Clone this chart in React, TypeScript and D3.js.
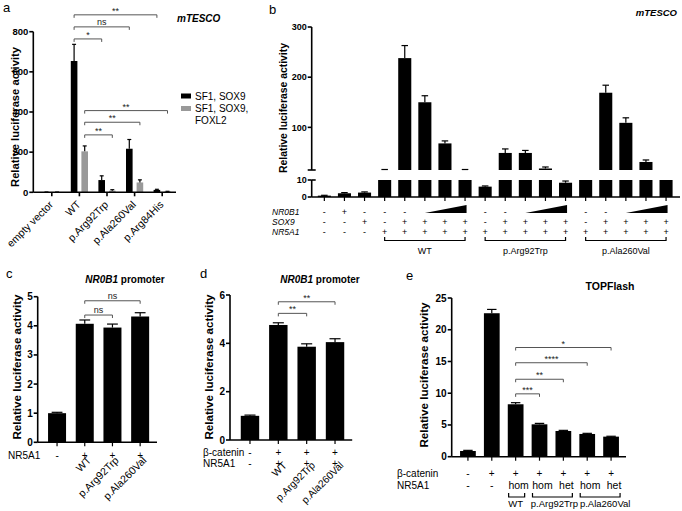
import * as d3 from "d3";

const FONT = "'Liberation Sans', Arial, Helvetica, sans-serif";

// ---- panel a: mTESCO, two series per variant
const aCategories = ["empty vector", "WT", "p.Arg92Trp", "p.Ala260Val", "p.Arg84His"];
const aSox9 = [1, 654, 61, 217, 12];
const aSox9Err = [0.5, 83, 21, 46, 3];
const aFoxl2 = [1, 204, 8, 49, 4];
const aFoxl2Err = [0.3, 27, 5, 13, 1];
const aTicks = [0, 200, 400, 600, 800];
const aSeries = ["SF1, SOX9", "SF1, SOX9, FOXL2"];
// [fromIdx, toIdx, series, level, label]
const aBrackets: [number, number, number, number, string][] = [
  [1, 4, 0, 884, "**"],
  [1, 3, 0, 824, "ns"],
  [1, 2, 0, 764, "*"],
  [1, 4, 1, 407, "**"],
  [1, 3, 1, 349, "**"],
  [1, 2, 1, 286, "**"],
];

// ---- panel b: mTESCO with broken axis
const bValues = [0.8, 2.2, 2.6, 13, 238, 150, 68, 13, 6.1, 49, 49, 18, 8.4, 12, 169, 109, 31, 12];
const bErr = [0.2, 0.4, 0.4, 3, 25, 13, 5, 3, 0.4, 8, 5, 3, 1, 0.5, 15, 10, 4, 0.5];
const bNR0B1 = ["-", "+", "-", "-", "-", "r", "r", "r", "-", "-", "r", "r", "r", "-", "-", "r", "r", "r"];
const bSOX9 = ["-", "-", "+", "-", "+", "+", "+", "+", "-", "+", "+", "+", "+", "-", "+", "+", "+", "+"];
const bNR5A1 = ["-", "-", "-", "+", "+", "+", "+", "+", "+", "+", "+", "+", "+", "+", "+", "+", "+", "+"];
const bGroups: [number, number, string][] = [[3, 7, "WT"], [8, 12, "p.Arg92Trp"], [13, 17, "p.Ala260Val"]];
const bRamps: [number, number][] = [[5, 7], [10, 12], [15, 17]];
const bLowTicks = [0, 10];
const bHighTicks = [100, 200, 300];

// ---- panel c: NR0B1 promoter
const cLabels = ["", "WT", "p.Arg92Trp", "p.Ala260Val"];
const cValues = [1.0, 4.07, 3.94, 4.32];
const cErr = [0.03, 0.13, 0.12, 0.13];
const cNR5A1 = ["-", "+", "+", "+"];
const cTicks = [0, 1, 2, 3, 4, 5];
const cBrackets: [number, number, number, string][] = [[1, 2, 4.37, "ns"], [1, 3, 4.86, "ns"]];

// ---- panel d: NR0B1 promoter with beta-catenin
const dLabels = ["", "WT", "p.Arg92Trp", "p.Ala260Val"];
const dValues = [1.0, 4.76, 3.86, 4.05];
const dErr = [0.03, 0.09, 0.12, 0.14];
const dCatenin = ["-", "+", "+", "+"];
const dNR5A1 = ["-", "+", "+", "+"];
const dTicks = [0, 2, 4, 6];
const dBrackets: [number, number, number, string][] = [[1, 2, 5.24, "**"], [1, 3, 5.72, "**"]];

// ---- panel e: TOPFlash
const eValues = [0.9, 22.6, 8.26, 5.1, 4.05, 3.58, 3.16];
const eErr = [0.1, 0.6, 0.25, 0.15, 0.1, 0.1, 0.06];
const eCatenin = ["-", "+", "+", "+", "+", "+", "+"];
const eNR5A1 = ["-", "-", "hom", "hom", "het", "hom", "het"];
const eGroups: [number, number, string][] = [[2, 2, "WT"], [3, 4, "p.Arg92Trp"], [5, 6, "p.Ala260Val"]];
const eTicks = [0, 5, 10, 15, 20, 25];
const eBrackets: [number, number, number, string][] = [
  [2, 3, 9.9, "***"],
  [2, 4, 12.2, "**"],
  [2, 5, 14.8, "****"],
  [2, 6, 17.2, "*"],
];

const AX = 1.6;

function ErrorBar({ x, y0, y1, w }: { x: number; y0: number; y1: number; w: number }) {
  return (
    <g stroke="#000" strokeWidth={1.2}>
      <line x1={x} x2={x} y1={y0} y2={y1} />
      <line x1={x - w / 2} x2={x + w / 2} y1={y1} y2={y1} />
    </g>
  );
}

function Bracket({ x1, x2, y, label, color = "#555", fs = 9 }: { x1: number; x2: number; y: number; label: string; color?: string; fs?: number }) {
  return (
    <g>
      <path d={`M${x1},${y + 3}V${y}H${x2}V${y + 3}`} fill="none" stroke={color} strokeWidth={1} />
      <text x={(x1 + x2) / 2} y={label === "ns" ? y - 2 : y - 1} textAnchor="middle" fontSize={fs} fill="#222">
        {label}
      </text>
    </g>
  );
}

function YAxis({ x, y, ticks, fs = 10 }: { x: number; y: d3.ScaleLinear<number, number>; ticks: number[]; fs?: number }) {
  const [r0, r1] = y.range();
  return (
    <g>
      <line x1={x} x2={x} y1={r0} y2={r1} stroke="#000" strokeWidth={AX} />
      {ticks.map((t) => (
        <g key={t}>
          <line x1={x - 4} x2={x} y1={y(t)} y2={y(t)} stroke="#000" strokeWidth={AX} />
          <text x={x - 5} y={y(t)} dy="0.35em" textAnchor="end" fontSize={fs} fontWeight="bold">
            {t}
          </text>
        </g>
      ))}
    </g>
  );
}

function YLabel({ x, y, fs }: { x: number; y: number; fs: number }) {
  return (
    <text transform={`translate(${x},${y}) rotate(-90)`} textAnchor="middle" fontSize={fs} fontWeight="bold">
      Relative luciferase activity
    </text>
  );
}

function PanelA() {
  const x = d3.scaleBand().domain(aCategories).range([38, 176]);
  const sub = d3.scaleBand().domain(aSeries).range([0, x.bandwidth()]).paddingInner(0.377).paddingOuter(0.49);
  const y = d3.scaleLinear().domain([0, 800]).range([192.3, 31.7]);
  const colors = ["#000", "#999"];
  const vals = [aSox9, aFoxl2];
  const errs = [aSox9Err, aFoxl2Err];
  const cx = (i: number, s: number) => (x(aCategories[i]) ?? 0) + (sub(aSeries[s]) ?? 0) + sub.bandwidth() / 2;
  return (
    <g>
      <text x={3} y={12} fontSize={13}>a</text>
      <text x={177} y={22} fontSize={10} fontWeight="bold" fontStyle="italic">mTESCO</text>
      <YLabel x={19} y={117} fs={11.2} />
      {aSeries.map((s, si) =>
        aCategories.map((c, i) => {
          const xc = cx(i, si);
          const w = sub.bandwidth();
          return (
            <g key={s + c}>
              <rect x={xc - w / 2} y={y(vals[si][i])} width={w} height={y(0) - y(vals[si][i])} fill={colors[si]} />
              <ErrorBar x={xc} y0={y(vals[si][i])} y1={y(vals[si][i] + errs[si][i])} w={w * 0.6} />
            </g>
          );
        })
      )}
      <YAxis x={33.3} y={y} ticks={aTicks} fs={9.5} />
      <line x1={33.3} x2={176} y1={y(0)} y2={y(0)} stroke="#000" strokeWidth={AX} />
      {aCategories.map((c) => {
        const xc = (x(c) ?? 0) + x.bandwidth() / 2;
        return (
          <g key={c}>
            <line x1={xc} x2={xc} y1={y(0)} y2={y(0) + 4} stroke="#000" strokeWidth={AX} />
            <text transform={`translate(${xc + 2},${y(0) + 13}) rotate(-45)`} textAnchor="end" fontSize={10.5}>
              {c}
            </text>
          </g>
        );
      })}
      {aBrackets.map(([a, b, s, lv, lab], i) => (
        <Bracket key={i} x1={cx(a, s)} x2={cx(b, s)} y={y(lv)} label={lab} />
      ))}
      <rect x={181} y={93.5} width={10} height={5} fill="#000" />
      <text x={195} y={100.3} fontSize={10}>SF1, SOX9</text>
      <rect x={181} y={106} width={10} height={5} fill="#999" />
      <text x={195} y={112} fontSize={10}>SF1, SOX9,</text>
      <text x={195} y={124} fontSize={10}>FOXL2</text>
    </g>
  );
}

function PanelB() {
  const cols = bValues.map((_, i) => String(i));
  const x = d3.scaleBand().domain(cols).range([314.3, 676.1]).paddingInner(0.35).paddingOuter(0.175);
  const yLow = d3.scaleLinear().domain([0, 10]).range([197, 180]);
  const yHigh = d3.scaleLinear().domain([15, 300]).range([170, 27]);
  const axX = 311.7;
  const cx = (i: number) => (x(String(i)) ?? 0) + x.bandwidth() / 2;
  const w = x.bandwidth();
  const rows: [string, string[], number][] = [["NR0B1", bNR0B1, 214.5], ["SOX9", bSOX9, 224.5], ["NR5A1", bNR5A1, 234.5]];
  return (
    <g>
      <text x={269} y={13.5} fontSize={13}>b</text>
      <text x={677} y={16} fontSize={9.5} fontWeight="bold" fontStyle="italic" textAnchor="end">mTESCO</text>
      <YLabel x={287} y={108} fs={10.4} />
      {bValues.map((v, i) => {
        const xc = cx(i);
        const top = v + bErr[i];
        return (
          <g key={i}>
            <rect x={xc - w / 2} y={yLow(Math.min(v, 10))} width={w} height={yLow(0) - yLow(Math.min(v, 10))} />
            {v > 15 && <rect x={xc - w / 2} y={yHigh(v)} width={w} height={yHigh(15) - yHigh(v)} />}
            {top <= 10 && <ErrorBar x={xc} y0={yLow(v)} y1={yLow(top)} w={w * 0.5} />}
            {top > 15 && <ErrorBar x={xc} y0={yHigh(Math.max(v, 15))} y1={yHigh(top)} w={w * 0.5} />}
          </g>
        );
      })}
      {/* broken y axis */}
      <YAxis x={axX} y={yLow} ticks={bLowTicks} fs={9} />
      <line x1={axX} x2={axX + 4} y1={yLow(10)} y2={yLow(10)} stroke="#000" strokeWidth={AX} />
      <YAxis x={axX} y={yHigh} ticks={bHighTicks} fs={9} />
      <line x1={axX - 4} x2={axX + 4} y1={yHigh(15)} y2={yHigh(15)} stroke="#000" strokeWidth={AX} />
      <line x1={axX} x2={680} y1={yLow(0)} y2={yLow(0)} stroke="#000" strokeWidth={AX} />
      {cols.map((c, i) => (
        <line key={c} x1={cx(i)} x2={cx(i)} y1={yLow(0)} y2={yLow(0) + 4} stroke="#000" strokeWidth={1.2} />
      ))}
      {rows.map(([name, vals, yy]) => (
        <g key={name}>
          <text x={272} y={yy} fontSize={8.5} fontStyle="italic" fill="#000">{name}</text>
          {vals.map((s, i) =>
            s === "r" ? null : (
              <text key={i} x={cx(i)} y={yy} fontSize={9} textAnchor="middle" fill="#000">{s}</text>
            )
          )}
        </g>
      ))}
      {bRamps.map(([a, b], i) => (
        <polygon key={i} points={`${cx(a)},213 ${cx(b) + 1.5},213 ${cx(b) + 1.5},205`} fill="#000" />
      ))}
      {bGroups.map(([a, b, lab]) => (
        <g key={lab}>
          <path d={`M${cx(a)},237V240.5H${cx(b)}V237`} fill="none" stroke="#000" strokeWidth={1.2} />
          <text x={(cx(a) + cx(b)) / 2} y={254} fontSize={9} textAnchor="middle">{lab}</text>
        </g>
      ))}
    </g>
  );
}

function SimplePanel({
  letter, lx, ly, title, tx, ty, ylx, yly, axX, xRange, yRange, yDomain, ticks,
  values, errs, barPad, brackets,
}: {
  letter: string; lx: number; ly: number; title: "nr0b1" | "top"; tx: number; ty: number;
  ylx: number; yly: number; axX: number; xRange: [number, number]; yRange: [number, number];
  yDomain: [number, number]; ticks: number[]; values: number[]; errs: number[]; barPad: number;
  brackets: [number, number, number, string][];
}) {
  const cols = values.map((_, i) => String(i));
  const x = d3.scaleBand().domain(cols).range(xRange).paddingInner(barPad).paddingOuter(barPad / 2);
  const y = d3.scaleLinear().domain(yDomain).range(yRange);
  const w = x.bandwidth();
  const cx = (i: number) => (x(String(i)) ?? 0) + w / 2;
  return (
    <g>
      <text x={lx} y={ly} fontSize={13}>{letter}</text>
      {title === "nr0b1" ? (
        <text x={tx} y={ty} fontSize={10} fontWeight="bold" textAnchor="middle">
          <tspan fontStyle="italic">NR0B1</tspan> promoter
        </text>
      ) : (
        <text x={tx} y={ty} fontSize={10.5} fontWeight="bold" textAnchor="middle">TOPFlash</text>
      )}
      <YLabel x={ylx} y={yly} fs={11.6} />
      {values.map((v, i) => (
        <g key={i}>
          <rect x={cx(i) - w / 2} y={y(v)} width={w} height={y(0) - y(v)} />
          <ErrorBar x={cx(i)} y0={y(v)} y1={y(v + errs[i])} w={w * 0.6} />
        </g>
      ))}
      <YAxis x={axX} y={y} ticks={ticks} fs={10} />
      <line x1={axX} x2={xRange[1] + 3} y1={y(0)} y2={y(0)} stroke="#000" strokeWidth={AX} />
      {cols.map((c, i) => (
        <line key={c} x1={cx(i)} x2={cx(i)} y1={y(0)} y2={y(0) + 4} stroke="#000" strokeWidth={1.2} />
      ))}
      {brackets.map(([a, b, lv, lab], i) => (
        <Bracket key={i} x1={cx(a)} x2={cx(b)} y={y(lv)} label={lab} fs={9} />
      ))}
    </g>
  );
}

function PanelC() {
  const x = d3.scaleBand().domain(cLabels.map((_, i) => String(i))).range([43.2, 154]).paddingInner(0.35).paddingOuter(0.175);
  const cx = (i: number) => (x(String(i)) ?? 0) + x.bandwidth() / 2;
  return (
    <g>
      <SimplePanel
        letter="c" lx={6} ly={278} title="nr0b1" tx={125} ty={283} ylx={21} yly={367}
        axX={37.7} xRange={[43.2, 154]} yRange={[442.3, 296.7]} yDomain={[0, 5]} ticks={cTicks}
        values={cValues} errs={cErr} barPad={0.35} brackets={cBrackets}
      />
      <text x={8} y={459} fontSize={10}>NR5A1</text>
      {cNR5A1.map((s, i) => (
        <text key={i} x={cx(i)} y={459} fontSize={10} textAnchor="middle">{s}</text>
      ))}
      {cLabels.map((l, i) => (
        <text key={i} transform={`translate(${cx(i) + 7},${461}) rotate(-45)`} textAnchor="end" fontSize={10.5}>{l}</text>
      ))}
    </g>
  );
}

function PanelD() {
  const x = d3.scaleBand().domain(dLabels.map((_, i) => String(i))).range([235.8, 349.2]).paddingInner(0.35).paddingOuter(0.175);
  const cx = (i: number) => (x(String(i)) ?? 0) + x.bandwidth() / 2;
  return (
    <g>
      <SimplePanel
        letter="d" lx={200} ly={278} title="nr0b1" tx={320} ty={283} ylx={213} yly={367}
        axX={230} xRange={[235.8, 349.2]} yRange={[440, 295]} yDomain={[0, 6]} ticks={dTicks}
        values={dValues} errs={dErr} barPad={0.35} brackets={dBrackets}
      />
      <text x={203} y={456} fontSize={10}>β-catenin</text>
      <text x={203} y={467} fontSize={10}>NR5A1</text>
      {dCatenin.map((s, i) => (
        <text key={"c" + i} x={cx(i)} y={456} fontSize={10} textAnchor="middle">{s}</text>
      ))}
      {dNR5A1.map((s, i) => (
        <text key={"n" + i} x={cx(i)} y={467} fontSize={10} textAnchor="middle">{s}</text>
      ))}
      {dLabels.map((l, i) => (
        <text key={i} transform={`translate(${cx(i) + 9},${466}) rotate(-45)`} textAnchor="end" fontSize={10.2}>{l}</text>
      ))}
    </g>
  );
}

function PanelE() {
  const x = d3.scaleBand().domain(eValues.map((_, i) => String(i))).range([456, 623]).paddingInner(0.34).paddingOuter(0.17);
  const cx = (i: number) => (x(String(i)) ?? 0) + x.bandwidth() / 2;
  // group labels sit slightly right of their bracket centre in the original
  const labelShift = [0, 3, 6];
  return (
    <g>
      <SimplePanel
        letter="e" lx={406} ly={280} title="top" tx={610} ty={290} ylx={428} yly={375}
        axX={451.7} xRange={[456, 623]} yRange={[456.7, 298]} yDomain={[0, 25]} ticks={eTicks}
        values={eValues} errs={eErr} barPad={0.34} brackets={eBrackets}
      />
      <text x={397} y={477} fontSize={10}>β-catenin</text>
      <text x={397} y={488.5} fontSize={10}>NR5A1</text>
      {eCatenin.map((s, i) => (
        <text key={"c" + i} x={cx(i)} y={477} fontSize={10} textAnchor="middle">{s}</text>
      ))}
      {eNR5A1.map((s, i) => (
        <text key={"n" + i} x={cx(i) + (s.length > 1 ? 3 : 0)} y={488.5} fontSize={10.5} textAnchor="middle">{s}</text>
      ))}
      {eGroups.map(([a, b, lab], gi) => (
        <g key={lab}>
          <path d={`M${cx(a) - 7},493V497H${cx(b) + 9}V493`} fill="none" stroke="#000" strokeWidth={1.2} />
          <text x={(cx(a) + cx(b)) / 2 + labelShift[gi]} y={506.5} fontSize={9.5} textAnchor="middle">{lab}</text>
        </g>
      ))}
    </g>
  );
}

export default function App() {
  return (
    <svg
      width={682}
      height={511}
      viewBox="0 0 682 511"
      fontFamily={FONT}
      style={{ position: "absolute", left: 0, top: 0, background: "#fff", display: "block" }}
    >
      <rect width={682} height={511} fill="#fff" />
      <PanelA />
      <PanelB />
      <PanelC />
      <PanelD />
      <PanelE />
    </svg>
  );
}
